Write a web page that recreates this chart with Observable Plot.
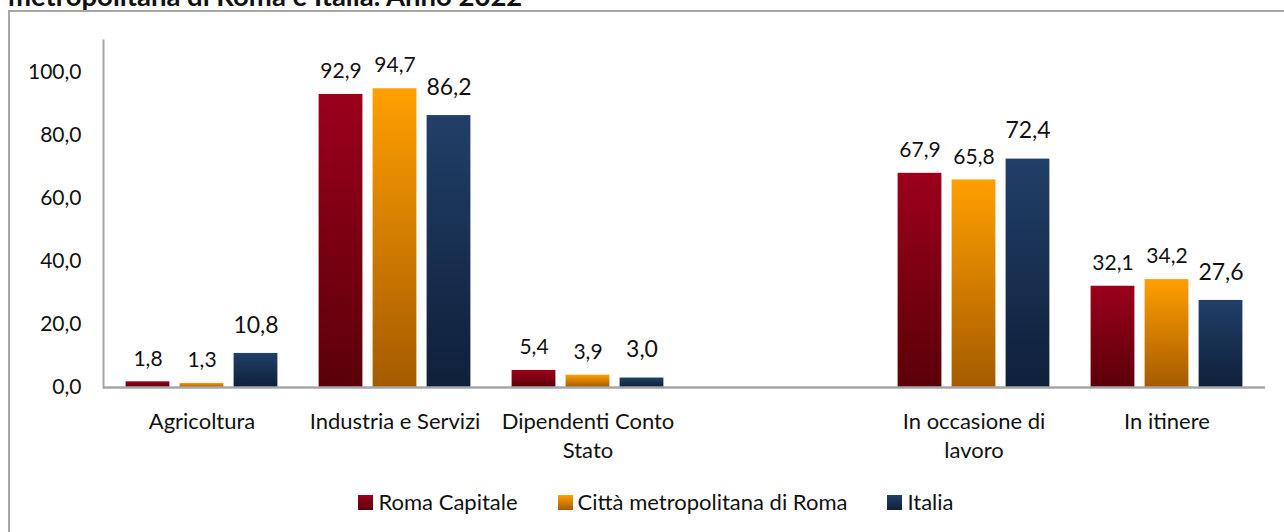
<!DOCTYPE html>
<html>
<head>
<meta charset="utf-8">
<script src="https://cdn.jsdelivr.net/npm/d3@7"></script>
<script src="https://cdn.jsdelivr.net/npm/@observablehq/plot@0.6"></script>
<style>
  html, body { margin: 0; padding: 0; background: #fff; }
  body { width: 1284px; height: 532px; position: relative; overflow: hidden; font-family: Lato, "Open Sans", sans-serif; color: #111; }
  #title { position: absolute; left: 8px; top: -18px; font-size: 27.5px; line-height: 27px; font-weight: bold; white-space: nowrap; }
  #box { position: absolute; left: 8px; top: 10px; width: 1300px; height: 560px; border: 2px solid #a6a6a6; box-sizing: border-box; }
  #chart { position: absolute; left: 0; top: 0; }
  #legend { position: absolute; left: 0; width: 1312px; top: 489px; display: flex; justify-content: center; gap: 40px; font-size: 22px; line-height: 26px; }
  .item { display: flex; align-items: center; gap: 5px; white-space: nowrap; }
  .sw { width: 15px; height: 15px; }
</style>
</head>
<body>
<div id="title">metropolitana di Roma e Italia. Anno 2022</div>
<div id="box"></div>
<div id="chart"></div>
<div id="legend"></div>
<script>
// ---- data ----
const categories = ["Agricoltura", "Industria e Servizi", "Dipendenti Conto Stato", " ", "In occasione di lavoro", "In itinere"];
const tickLabels = ["Agricoltura", "Industria e Servizi", "Dipendenti Conto\nStato", "", "In occasione di\nlavoro", "In itinere"];
const seriesNames = ["Roma Capitale", "Città metropolitana di Roma", "Italia"];
const romaCapitale = [1.8, 92.9, 5.4, null, 67.9, 32.1];
const cittaMetropolitana = [1.3, 94.7, 3.9, null, 65.8, 34.2];
const italia = [10.8, 86.2, 3.0, null, 72.4, 27.6];
const yTicks = [0, 20, 40, 60, 80, 100];

// ---- styles ----
const gradients = [
  ["#9c001b", "#5a0008"],
  ["#ff9f00", "#a55b00"],
  ["#213f68", "#0f203a"]
];
const offsets = [-54, 0, 54];
const labelSizes = [21, 21, 23];
const labelDy = [-23, -23, -28];

const values = [romaCapitale, cittaMetropolitana, italia];
const fmt = v => d3.format(".1f")(v).replace(".", ",");
const rowsFor = s => categories.map((c, i) => ({category: c, value: values[s][i]})).filter(d => d.value != null);

const marks = [];
seriesNames.forEach((name, s) => {
  const rows = rowsFor(s);
  marks.push(Plot.barY(rows, {x: "category", y: "value", fill: `url(#grad${s})`, insetLeft: 74.6, insetRight: 74.6, dx: offsets[s]}));
});
seriesNames.forEach((name, s) => {
  const rows = rowsFor(s);
  marks.push(Plot.text(rows, {x: "category", y: "value", text: d => fmt(d.value), dx: offsets[s], dy: labelDy[s], lineAnchor: "middle", fontSize: labelSizes[s], fill: "#111"}));
});

const chart = Plot.plot({
  width: 1284,
  height: 470,
  marginLeft: 103,
  marginRight: 19,
  marginTop: 40,
  marginBottom: 83,
  style: {fontFamily: "Lato, 'Open Sans', sans-serif", background: "transparent", color: "#111"},
  x: {type: "band", domain: categories, padding: 0, axis: null, label: null},
  y: {domain: [0, 110], axis: null, label: null},
  marks: [
    ...marks,
    Plot.axisY({ticks: yTicks, tickSize: 0, tickPadding: 22, fontSize: 21, tickFormat: fmt, label: null}),
    Plot.axisX({tickSize: 0, tickPadding: 21, fontSize: 22, lineHeight: 1.32, label: null, tickFormat: (d) => tickLabels[categories.indexOf(d)]}),
    Plot.frame({anchor: "left", stroke: "#a6a6a6", strokeWidth: 2}),
    Plot.ruleY([0], {stroke: "#a6a6a6", strokeWidth: 2.5})
  ]
});

const svg = d3.select(chart);
const defs = svg.insert("defs", ":first-child");
gradients.forEach(([top, bottom], s) => {
  const g = defs.append("linearGradient").attr("id", `grad${s}`).attr("x1", 0).attr("y1", 0).attr("x2", 0).attr("y2", 1);
  g.append("stop").attr("offset", "0%").attr("stop-color", top);
  g.append("stop").attr("offset", "100%").attr("stop-color", bottom);
});
document.getElementById("chart").appendChild(chart);

const legend = d3.select("#legend");
seriesNames.forEach((name, s) => {
  const item = legend.append("div").attr("class", "item");
  item.append("div").attr("class", "sw").style("background", `linear-gradient(${gradients[s][0]}, ${gradients[s][1]})`);
  item.append("span").text(name);
});
</script>
</body>
</html>
